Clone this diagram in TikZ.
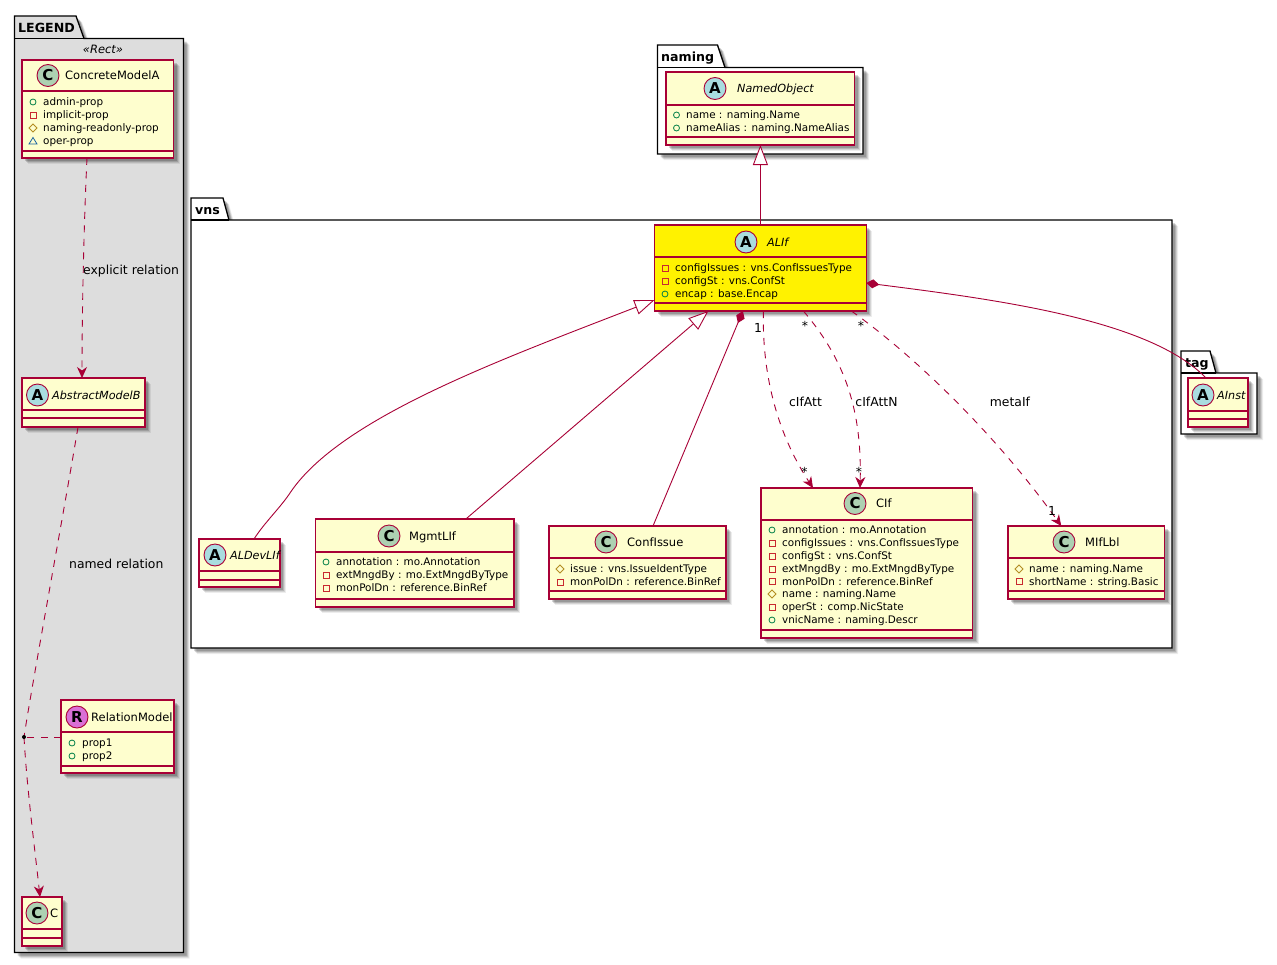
\documentclass[tikz,border=0pt]{standalone}
\usepackage{fontspec}
\setmainfont{DejaVu Sans}
\usetikzlibrary{arrows.meta,calc}
\definecolor{umlred}{HTML}{A80036}
\definecolor{umlfill}{HTML}{FEFECE}
\definecolor{circC}{HTML}{ADD1B2}
\definecolor{circA}{HTML}{A9DCDF}
\definecolor{circR}{HTML}{DA70D6}
\definecolor{icoG}{HTML}{038048}
\definecolor{icoR}{HTML}{C82930}
\definecolor{icoY}{HTML}{B38D22}
\definecolor{icoB}{HTML}{1963A0}
\definecolor{legendgray}{HTML}{DDDDDD}
\tikzset{
  classbox/.style={draw=umlred,line width=1.1pt,inner sep=0pt,outer sep=0pt},
  classline/.style={umlred,line width=1.1pt},
  pkgline/.style={draw=black,line width=1.3pt,line join=miter},
  headcirc/.style={circle,draw=umlred,line width=.9pt,minimum size=22pt,inner sep=0pt,font=\fontsize{15}{15}\selectfont\bfseries},
  titletext/.style={anchor=base west,inner sep=0pt,font=\fontsize{11.5}{14}\selectfont},
  abstitle/.style={anchor=base west,inner sep=0pt,font=\fontsize{11.2}{14}\selectfont\itshape},
  memtext/.style={anchor=base west,inner sep=0pt,font=\fontsize{10.4}{12}\selectfont},
  pkgtext/.style={anchor=base west,inner sep=0pt,font=\fontsize{12.6}{16}\selectfont\bfseries},
  edgetext/.style={inner sep=0pt,font=\fontsize{12.4}{14}\selectfont},
  rel/.style={draw=umlred,line width=.9pt},
  dashrel/.style={rel,dash pattern=on 7pt off 6.5pt},
  dep/.style={dashrel,-{Stealth[length=11pt,width=10pt,inset=3.5pt,fill=umlred]}},
  inh/.style={rel,-{Triangle[open,length=20pt,width=15pt,fill=white]}},
  comp/.style={rel,-{Diamond[length=13pt,width=9pt,fill=umlred]}},
}
\newcommand{\umlshadow}[4]{%
  \foreach \o/\a in {6/.07,5/.10,4/.14,3/.16}{\fill[black,opacity=\a] ({#1+\o},{#2+\o}) rectangle ({#3+\o},{#4+\o});}}
% id x1 y1 x2 y2 sep1 sep2 fill
\newcommand{\umlbox}[8]{%
  \umlshadow{#2}{#3}{#4}{#5}%
  \node[classbox,fill=#8,minimum width={(#4-#2)*1pt},minimum height={(#5-#3)*1pt}] (#1) at ({(#2+#4)/2},{(#3+#5)/2}) {};
  \draw[classline] (#2,#6) -- (#4,#6) (#2,#7) -- (#4,#7);}
% id letter color cx cy tx style text
\newcommand{\umlhead}[8]{%
  \node[headcirc,fill=#3] (#1-c) at (#4,#5) {#2};
  \node[#7] (#1-t) at (#6,{#5+4.2}) {#8};}
% id kind ix tx y text
\newcommand{\umlmem}[6]{%
  \csname ico#2\endcsname{#3}{#5}%
  \node[memtext] (#1) at (#4,{#5+3.8}) {#6};}
\newcommand{\icopub}[2]{\draw[icoG,line width=.8pt] (#1,#2) circle (3pt);}
\newcommand{\icopriv}[2]{\draw[icoR,line width=.9pt] ({#1-3},{#2-3}) rectangle ({#1+3},{#2+3});}
\newcommand{\icoprot}[2]{\draw[icoY,line width=.8pt] ({#1-4},#2) -- (#1,{#2-4}) -- ({#1+4},#2) -- (#1,{#2+4}) -- cycle;}
\newcommand{\icopack}[2]{\draw[icoB,line width=.8pt] ({#1-4},{#2+3}) -- (#1,{#2-3.5}) -- ({#1+4},{#2+3}) -- cycle;}
% id x1 ytab xtr xbr ytop x2 y2 fill
\newcommand{\umlpkg}[9]{%
  \foreach \o/\a in {6/.07,5/.10,4/.14,3/.16}{\fill[black,opacity=\a] ({#2+\o},{#6+\o}) -- ({#2+\o},{#3+\o}) -- ({#4+\o},{#3+\o}) -- ({#5+\o},{#6+\o}) -- ({#7+\o},{#6+\o}) -- ({#7+\o},{#8+\o}) -- ({#2+\o},{#8+\o}) -- cycle;}
  \draw[pkgline,fill=#9] (#2,#6) -- (#2,#3) -- (#4,#3) -- (#5,#6) -- (#7,#6) -- (#7,#8) -- (#2,#8) -- cycle;
  \draw[pkgline] (#2,#6) -- (#5,#6);}
\begin{document}
\begin{tikzpicture}[x=1pt,y=-1pt]
\useasboundingbox (0,0) rectangle (1277,964);
\fill[white] (0,0) rectangle (1277,964);
% packages
\umlpkg{legend}{14.5}{16}{76}{84}{38.5}{183.5}{952.5}{legendgray}
\node[pkgtext] (legend-l) at (18,32) {LEGEND};
\node[edgetext,font=\fontsize{11.5}{14}\selectfont\itshape] (legend-s) at (103,49) {«Rect»};
\umlpkg{naming}{657.5}{45}{717.5}{725}{67.5}{863}{154}{white}
\node[pkgtext] (naming-l) at (661,61) {naming};
\umlpkg{vns}{191}{198}{223}{229}{220}{1172}{648}{white}
\node[pkgtext] (vns-l) at (195,214) {vns};
\umlpkg{tag}{1181}{351}{1210}{1216}{373}{1257}{434}{white}
\node[pkgtext] (tag-l) at (1185,367) {tag};
% LEGEND classes
\umlbox{A}{22}{60}{173.5}{158}{91}{151}{umlfill}
\umlhead{A}{C}{circC}{48}{75.5}{65}{titletext}{ConcreteModelA}
\umlmem{A1}{pub}{33}{43}{102}{admin-prop}
\umlmem{A2}{priv}{33}{43}{115}{implicit-prop}
\umlmem{A3}{prot}{33}{43}{128}{naming-readonly-prop}
\umlmem{A4}{pack}{33}{43}{141}{oper-prop}
\umlbox{B}{22}{378}{145}{427}{410}{418}{umlfill}
\umlhead{B}{A}{circA}{37.5}{395}{52}{abstitle}{AbstractModelB}
\umlbox{R}{61}{700}{174}{773}{732}{766}{umlfill}
\umlhead{R}{R}{circR}{77}{717}{91}{titletext}{RelationModel}
\umlmem{R1}{pub}{72}{82}{743}{prop1}
\umlmem{R2}{pub}{72}{82}{756}{prop2}
\umlbox{Cc}{22}{897}{62}{946}{929}{938}{umlfill}
\umlhead{Cc}{C}{circC}{37}{913}{50}{titletext}{C}
% naming
\umlbox{NO}{666}{72}{854.8}{145}{105}{137}{umlfill}
\umlhead{NO}{A}{circA}{715}{88.5}{737}{abstitle}{NamedObject}
\umlmem{NO1}{pub}{676.5}{686}{115}{name : naming.Name}
\umlmem{NO2}{pub}{676.5}{686}{128}{nameAlias : naming.NameAlias}
% vns
\umlbox{ALIf}{654.5}{225}{866.3}{311}{257}{303}{yellow}
\umlhead{ALIf}{A}{circA}{746}{242}{767}{abstitle}{ALIf}
\umlmem{AL1}{priv}{665}{675}{268}{configIssues : vns.ConfIssuesType}
\umlmem{AL2}{priv}{665}{675}{281}{configSt : vns.ConfSt}
\umlmem{AL3}{pub}{665}{675}{294}{encap : base.Encap}
\umlbox{Dev}{199}{539}{280}{587}{571}{580}{umlfill}
\umlhead{Dev}{A}{circA}{215}{555}{230}{abstitle}{ALDevLIf}
\umlbox{Mg}{315.7}{519}{514}{607}{552}{599}{umlfill}
\umlhead{Mg}{C}{circC}{389}{536}{409}{titletext}{MgmtLIf}
\umlmem{Mg1}{pub}{326}{336}{562}{annotation : mo.Annotation}
\umlmem{Mg2}{priv}{326}{336}{575}{extMngdBy : mo.ExtMngdByType}
\umlmem{Mg3}{priv}{326}{336}{588}{monPolDn : reference.BinRef}
\umlbox{Cf}{549}{526}{726}{599}{558}{591}{umlfill}
\umlhead{Cf}{C}{circC}{606}{542}{627}{titletext}{ConfIssue}
\umlmem{Cf1}{prot}{560}{570}{569}{issue : vns.IssueIdentType}
\umlmem{Cf2}{priv}{560}{570}{582}{monPolDn : reference.BinRef}
\umlbox{CIf}{761}{488}{972.5}{638}{520}{630}{umlfill}
\umlhead{CIf}{C}{circC}{855}{503.5}{876}{titletext}{CIf}
\umlmem{CI1}{pub}{772}{782}{530}{annotation : mo.Annotation}
\umlmem{CI2}{priv}{772}{782}{543}{configIssues : vns.ConfIssuesType}
\umlmem{CI3}{priv}{772}{782}{556}{configSt : vns.ConfSt}
\umlmem{CI4}{priv}{772}{782}{569}{extMngdBy : mo.ExtMngdByType}
\umlmem{CI5}{priv}{772}{782}{581.5}{monPolDn : reference.BinRef}
\umlmem{CI6}{prot}{772}{782}{594}{name : naming.Name}
\umlmem{CI7}{priv}{772}{782}{607}{operSt : comp.NicState}
\umlmem{CI8}{pub}{772}{782}{620}{vnicName : naming.Descr}
\umlbox{Lb}{1008}{526}{1164.5}{599}{558}{591}{umlfill}
\umlhead{Lb}{C}{circC}{1064}{542}{1085}{titletext}{MIfLbl}
\umlmem{Lb1}{prot}{1019}{1029}{569}{name : naming.Name}
\umlmem{Lb2}{priv}{1019}{1029}{581.5}{shortName : string.Basic}
% tag
\umlbox{AI}{1188}{378}{1248}{427}{411}{419}{umlfill}
\umlhead{AI}{A}{circA}{1203}{395}{1217}{abstitle}{AInst}
% legend connectors
\coordinate (dotc) at (24,737);
\draw[dep] ([xshift=-10.75pt]A.south) .. controls (84,220) and (82,310) .. ([xshift=-1.5pt]B.north);
\draw[dashrel] ([xshift=-5.5pt]B.south) .. controls (66,500) and (31,690) .. (dotc);
\draw[dep] (dotc) .. controls (27,790) and (35,850) .. ([xshift=-2pt]Cc.north);
\draw[dashrel] (R.west |- dotc) -- (dotc);
\node[circle,fill=black,inner sep=0pt,minimum size=4pt] (dot) at (dotc) {};
\node[edgetext,anchor=base west] (l1) at (83,274) {explicit relation};
\node[edgetext,anchor=base west] (l2) at (69,568) {named relation};
% naming -> ALIf
\draw[inh] (ALIf.north) -- (NO.south);
% inheritance
\draw[inh] ([xshift=14.5pt]Dev.north) .. controls (265,522) and (280,508) .. (290,493) .. controls (340,418) and (500,360) .. ([yshift=-32pt]ALIf.west);
\draw[inh] ([xshift=51pt]Mg.north) -- ([xshift=-52pt]ALIf.south);
% composition
\draw[comp] ([xshift=15.5pt]Cf.north) -- ([xshift=-17.5pt]ALIf.south);
\draw[comp] ([xshift=-12pt]AI.north) .. controls (1150,320) and (1000,300) .. ([yshift=-15pt]ALIf.east);
% dependencies
\draw[dep] ([xshift=3pt]ALIf.south) .. controls (762,370) and (775,430) .. ([xshift=-53.75pt]CIf.north);
\draw[dep] ([xshift=43pt]ALIf.south) .. controls (845,360) and (862,410) .. ([xshift=-6.75pt]CIf.north);
\draw[dep] ([xshift=91pt]ALIf.south) .. controls (920,360) and (1000,440) .. ([xshift=-25pt]Lb.north);
\node[edgetext] (e1) at (805.5,402) {cIfAtt};
\node[edgetext] (e2) at (876.5,402) {cIfAttN};
\node[edgetext] (e3) at (1010,402) {metaIf};
\node[edgetext] (c1) at (758,328) {1};
\node[edgetext] (c2) at (805,326) {*};
\node[edgetext] (c3) at (861,326) {*};
\node[edgetext] (c4) at (804.5,472) {*};
\node[edgetext] (c5) at (859,472) {*};
\node[edgetext] (c6) at (1052,511) {1};
\end{tikzpicture}
\end{document}
